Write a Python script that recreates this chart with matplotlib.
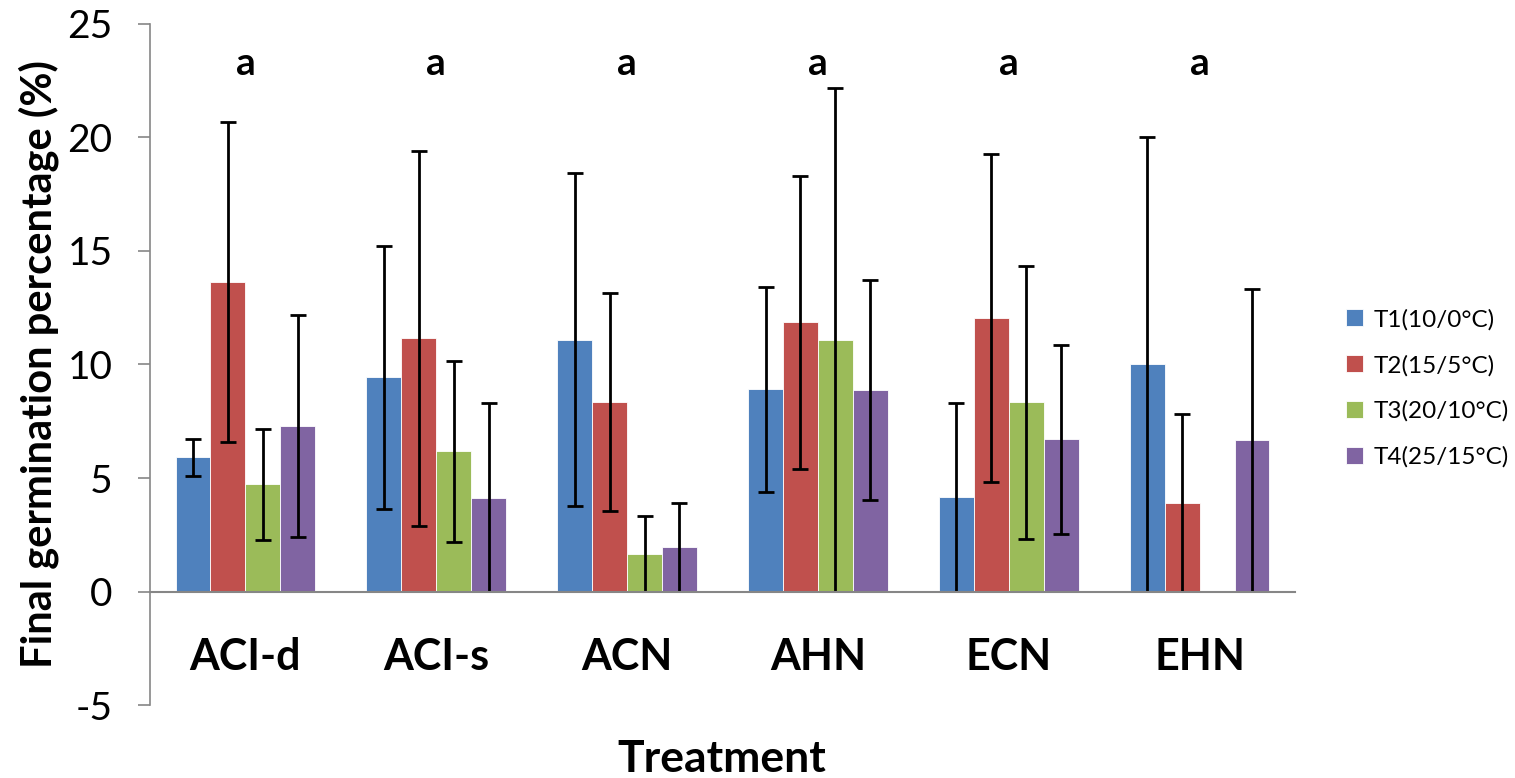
import numpy as np
import matplotlib.pyplot as plt

treatments = ["ACI-d", "ACI-s", "ACN", "AHN", "ECN", "EHN"]
series = ["T1(10/0°C)", "T2(15/5°C)", "T3(20/10°C)", "T4(25/15°C)"]
colors = ["#4F81BD", "#C0504D", "#9BBB59", "#8064A2"]

t1 = [5.91, 9.43, 11.10, 8.90, 4.15, 10.00]
t2 = [13.62, 11.15, 8.33, 11.86, 12.03, 3.89]
t3 = [4.72, 6.17, 1.67, 11.10, 8.33, 0.0]
t4 = [7.27, 4.14, 1.94, 8.86, 6.70, 6.66]

t1_err = [0.80, 5.80, 7.35, 4.50, 4.17, 10.00]
t2_err = [7.05, 8.25, 4.80, 6.45, 7.22, 3.93]
t3_err = [2.44, 4.00, 1.67, 11.10, 6.00, 0.0]
t4_err = [4.89, 4.16, 1.96, 4.85, 4.15, 6.66]

letters = ["a", "a", "a", "a", "a", "a"]

plt.rcParams['font.family'] = ['Lato', 'DejaVu Sans']
plt.rcParams['axes.unicode_minus'] = False

fig = plt.figure(figsize=(15.15, 7.78), dpi=100)
ax = fig.add_axes([0.099, 0.0938, 0.7558, 0.8754])

x = np.arange(len(treatments))
width = 0.183
vals = [t1, t2, t3, t4]
errs = [t1_err, t2_err, t3_err, t4_err]
for i, (v, e) in enumerate(zip(vals, errs)):
    v = np.array(v)
    e = np.array(e)
    pos = x + (i - 1.5) * width
    ax.bar(pos, v, width, color=colors[i], edgecolor="white", linewidth=0.6,
           label=series[i], zorder=2)
    lower = np.minimum(e, v)
    mask = e > 0
    ax.errorbar(pos[mask], v[mask], yerr=[lower[mask], e[mask]], fmt="none",
                ecolor="black", elinewidth=2, capsize=0, zorder=3)
    # caps: always on top, at the bottom only when the bar is not cut at zero
    ax.plot(pos[mask], (v + e)[mask], ls="none", marker="_", ms=11, mew=2,
            color="black", zorder=3)
    low_mask = mask & (e < v)
    ax.plot(pos[low_mask], (v - e)[low_mask], ls="none", marker="_", ms=11, mew=2,
            color="black", zorder=3)

for xi, s in zip(x, letters):
    ax.text(xi, 23.25, s, ha="center", va="center", fontsize=28, fontweight="bold")

for xi, s in zip(x, treatments):
    ax.text(xi, -2.9, s, ha="center", va="center", fontsize=31, fontweight="bold")

ax.set_xlim(-0.5, len(treatments) - 0.5)
ax.set_ylim(-5, 25)
ax.set_yticks(np.arange(-5, 26, 5))
ax.set_xticks([])
ax.tick_params(axis="y", labelsize=28, length=9, width=1.2, color="#868686", pad=18)

for s in ["top", "right"]:
    ax.spines[s].set_visible(False)
ax.spines["bottom"].set_position(("data", 0))
ax.spines["bottom"].set_color("#868686")
ax.spines["bottom"].set_linewidth(1.5)
ax.spines["bottom"].set_zorder(4)
ax.spines["left"].set_color("#868686")
ax.spines["left"].set_linewidth(1.2)

ax.set_ylabel("Final germination percentage (%)", fontsize=30, fontweight="bold", labelpad=6)
fig.text(0.4765, 0.025, "Treatment", ha="center", va="center", fontsize=32, fontweight="bold")

ax.legend(loc="center left", bbox_to_anchor=(1.025, 0.465), frameon=False, fontsize=17.5,
          handlelength=0.7, handleheight=0.7, labelspacing=1.0, handletextpad=0.45)

fig.savefig("out.png", dpi=100)
